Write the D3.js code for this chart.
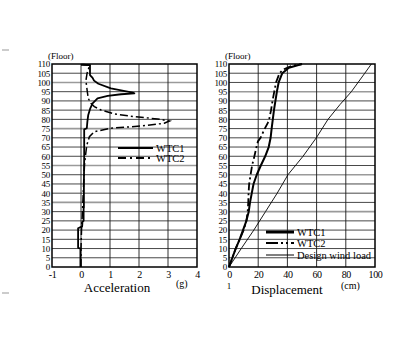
<!DOCTYPE html>
<html><head><meta charset="utf-8">
<script src="https://cdn.jsdelivr.net/npm/d3@7"></script>
<style>body{margin:0;background:#fff}svg{display:block}</style>
</head><body>
<svg id="c" width="420" height="340"></svg>
<script>
// ---- data ----
const floorTicks = d3.range(0, 111, 5);
const accelTicks = [-1, 0, 1, 2, 3, 4];
const dispTicks = [0, 20, 40, 60, 80, 100];
const grayFloorsLeft = [100, 75, 55, 35];
const grayFloorsRight = [95, 50, 30];
// [acceleration (g), floor]
const wtc1Acc = [[-0.02,0],[-0.02,10],[-0.1,10.4],[-0.1,21],[0.04,22],[0.05,24.5],[0.09,25],[0.09,31.8],[0.1,32.2],[0.1,45],[0.11,60],[0.11,74.6],[0.2,75.2],[0.22,78.8],[0.25,82.4],[0.32,86],[0.4,88.7],[0.57,91.4],[0.92,92.7],[1.38,93.6],[1.84,94.1],[1.78,94.5],[1.03,96.8],[0.6,99.3],[0.45,101],[0.4,102.5],[0.31,104],[0.31,109.4],[0,109.6]];
const wtc2Acc = [[0,0],[0,10],[0.02,21],[0.05,30],[0.09,45],[0.12,55],[0.16,61],[0.2,66],[0.29,70.6],[0.46,73.3],[1.03,75.2],[2.07,76.4],[2.87,77.9],[3.05,79.1],[2.64,80.2],[1.84,81.5],[1.15,82.9],[0.69,85.1],[0.46,86.9],[0.34,88.7],[0.25,91.4],[0.21,95.9],[0.17,101],[0.21,105],[0.29,108.8],[0.33,109.5],[0,109.7]];
// [displacement (cm), floor]
const wtc1Disp = [[0,0],[2.3,5],[4.6,10],[7.3,15],[9.6,20],[11.9,25],[13.5,30],[14.4,35],[15.6,40],[16.8,45],[19,50],[21.8,55],[24.8,60],[27.2,65],[28.5,70],[29.2,75],[30,80],[30.8,85],[31.8,90],[32.8,95],[34,100],[36.5,105],[41,108],[50,110]];
const wtc2Disp = [[0,0],[2.3,5],[4.6,10],[7.3,15],[10,20],[11.9,25],[12.8,30],[13.2,35],[13.4,40],[13.8,45],[14.8,50],[15.8,55],[17.4,60],[18.8,65],[19.8,68],[21.6,70],[24.5,75],[26.5,78],[27.5,80],[28.8,85],[29.8,90],[31,95],[32.2,100],[34.6,105],[37.2,107],[43,109],[50,110]];
const designDisp = [[0,0],[8.4,10],[17,20],[25,30],[33,40],[40.4,50],[50.7,60],[59.8,70],[67.8,80],[76,88],[83.8,95],[93,105],[97.5,110]];

// ---- drawing ----
const svg = d3.select("#c");
svg.append("rect").attr("width",420).attr("height",340).attr("fill","#fff");
const font = "'Liberation Serif', 'DejaVu Serif', serif";

const y = d3.scaleLinear().domain([0,110]).range([267,64]);
const xL = d3.scaleLinear().domain([-1,4]).range([52,197]);
const xR = d3.scaleLinear().domain([0,100]).range([229,375]);

function panel(x, xTicks, grayFloors) {
  const g = svg.append("g");
  const [x0, x1] = x.range();
  g.selectAll("line.h").data(floorTicks.filter(f => f>0 && f<110)).join("line")
    .attr("x1", x0).attr("x2", x1).attr("y1", d=>y(d)).attr("y2", d=>y(d))
    .attr("stroke", d => grayFloors.includes(d) ? "#9a9a9a" : "#1a1a1a")
    .attr("stroke-width", d => grayFloors.includes(d) ? 1.6 : 0.8);
  const dom = x.domain();
  g.selectAll("line.v").data(xTicks.filter(t => t>dom[0] && t<dom[1])).join("line")
    .attr("x1", d=>x(d)).attr("x2", d=>x(d)).attr("y1", y(0)).attr("y2", y(110))
    .attr("stroke", "#1a1a1a").attr("stroke-width", 0.9);
  g.append("rect").attr("x", x0).attr("y", y(110)).attr("width", x1-x0).attr("height", y(0)-y(110))
    .attr("fill","none").attr("stroke","#000").attr("stroke-width",1.5);
  const ya = g.append("g").attr("transform", `translate(${x0},0)`)
    .call(d3.axisLeft(y).tickValues(floorTicks).tickSize(0).tickPadding(2).tickFormat(d=>String(d)));
  ya.select(".domain").remove();
  ya.selectAll("text").attr("font-family", font).attr("font-size", 9).attr("fill","#000")
    .attr("letter-spacing", -0.3);
  const xa = g.append("g").attr("transform", `translate(0,${y(0)})`)
    .call(d3.axisBottom(x).tickValues(xTicks).tickSize(0).tickPadding(4).tickFormat(d=>String(d)));
  xa.select(".domain").remove();
  xa.selectAll("text").attr("font-family", font).attr("font-size", 10).attr("fill","#000")
    .attr("letter-spacing", -0.4);
  g.append("text").attr("x", x0-4).attr("y", 59).text("(Floor)")
    .attr("font-family", font).attr("font-size", 9).attr("fill","#000");
  return g;
}

const gL = panel(xL, accelTicks, grayFloorsLeft);
const gR = panel(xR, dispTicks, grayFloorsRight);

const lineL = d3.line().x(d=>xL(d[0])).y(d=>y(d[1]));
const lineR = d3.line().x(d=>xR(d[0])).y(d=>y(d[1]));

gL.append("path").datum(wtc2Acc).attr("d", lineL).attr("fill","none")
  .attr("stroke","#000").attr("stroke-width",1.5).attr("stroke-dasharray","8,3,2,3");
gL.append("path").datum(wtc1Acc).attr("d", lineL).attr("fill","none")
  .attr("stroke","#000").attr("stroke-width",1.8).attr("stroke-linejoin","round");

gR.append("path").datum(designDisp).attr("d", lineR).attr("fill","none")
  .attr("stroke","#000").attr("stroke-width",0.9);
gR.append("path").datum(wtc2Disp).attr("d", lineR).attr("fill","none")
  .attr("stroke","#000").attr("stroke-width",1.8).attr("stroke-dasharray","8,3,2,3");
gR.append("path").datum(wtc1Disp).attr("d", lineR).attr("fill","none")
  .attr("stroke","#000").attr("stroke-width",2).attr("stroke-linejoin","round");

function legendItem(g, x1, x2, yy, label, w, dash) {
  g.append("line").attr("x1",x1).attr("x2",x2).attr("y1",yy).attr("y2",yy)
    .attr("stroke","#000").attr("stroke-width",w).attr("stroke-dasharray",dash);
  g.append("text").attr("x",x2+3).attr("y",yy+3.5).text(label)
    .attr("font-family",font).attr("font-size",10.5).attr("fill","#000");
}
legendItem(gL, 118, 153, 148, "WTC1", 2.2, null);
legendItem(gL, 118, 153, 158, "WTC2", 1.8, "8,4,2,4");
legendItem(gR, 266, 294, 232, "WTC1", 3, null);
legendItem(gR, 266, 294, 243, "WTC2", 2, "12,3,2,3,2,3");
legendItem(gR, 266, 294, 255, "Design wind load", 1, null);

svg.append("text").attr("x",117).attr("y",292).attr("text-anchor","middle").text("Acceleration")
  .attr("font-family",font).attr("font-size",13).attr("fill","#000");
svg.append("text").attr("x",176).attr("y",287).text("(g)")
  .attr("font-family",font).attr("font-size",10).attr("fill","#000");
svg.append("text").attr("x",287).attr("y",294).attr("text-anchor","middle").text("Displacement")
  .attr("font-family",font).attr("font-size",13).attr("fill","#000");
svg.append("text").attr("x",341).attr("y",289).text("(cm)")
  .attr("font-family",font).attr("font-size",10).attr("fill","#000");
svg.append("text").attr("x",229).attr("y",289).attr("text-anchor","middle").text("1")
  .attr("font-family",font).attr("font-size",9).attr("fill","#000");

svg.append("line").attr("x1",2).attr("x2",9).attr("y1",50).attr("y2",50).attr("stroke","#999").attr("stroke-width",1);
svg.append("line").attr("x1",2).attr("x2",9).attr("y1",293).attr("y2",293).attr("stroke","#999").attr("stroke-width",1);
</script>
</body></html>
